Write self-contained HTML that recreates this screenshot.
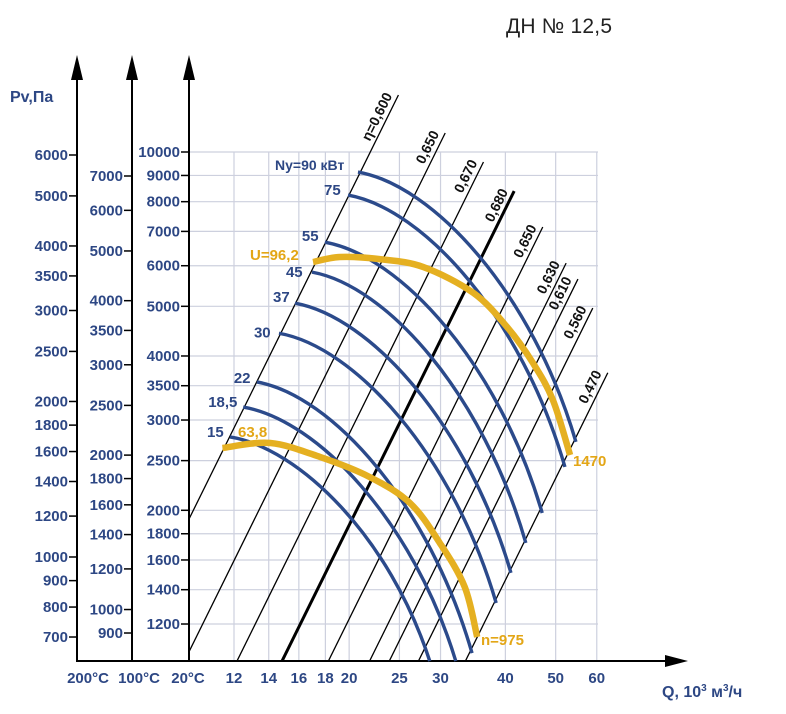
<!DOCTYPE html>
<html><head><meta charset="utf-8"><style>
html,body{margin:0;padding:0;background:#fff;}
svg{display:block;font-family:"Liberation Sans",sans-serif;}
.bl{fill:#2d4784;font-weight:bold;}
.tk{fill:#2d4784;font-weight:bold;font-size:15px;}
.or{fill:#e3a616;font-weight:bold;font-size:15px;}
</style></head><body>
<svg id="chart" width="786" height="714" viewBox="0 0 786 714">
<g id="grid"></g>
<g id="axes">
 <line x1="77" y1="70" x2="77" y2="662" stroke="#000" stroke-width="2"/>
 <line x1="132" y1="70" x2="132" y2="662" stroke="#000" stroke-width="2"/>
 <line x1="189" y1="70" x2="189" y2="662" stroke="#000" stroke-width="2"/>
 <polygon points="71,80 77,55 83,80" fill="#000"/>
 <polygon points="126,80 132,55 138,80" fill="#000"/>
 <polygon points="183,80 189,55 195,80" fill="#000"/>
 <line x1="76" y1="661" x2="672" y2="661" stroke="#000" stroke-width="2"/>
 <polygon points="665,655 688,661 665,667" fill="#000"/>
</g>
<g id="ticks"></g>
<g id="etas" clip-path="url(#c)"></g>
<g id="etaLabels"></g>
<g id="powers"></g>
<g id="speeds"></g>
<defs><clipPath id="c"><rect x="189" y="0" width="600" height="661"/></clipPath></defs>
<text x="506" y="33" font-size="21" fill="#222" textLength="106">ДН № 12,5</text>
<text x="10" y="102" class="bl" font-size="16">Pv,Па</text>
<text x="662" y="697" class="bl" font-size="16">Q, 10<tspan font-size="10" dy="-6">3</tspan><tspan dy="6"> м</tspan><tspan font-size="10" dy="-6">3</tspan><tspan dy="6">/ч</tspan></text>
<text x="275" y="170" class="bl" font-size="14">Ny=90 кВт</text>
<text x="250" y="260" class="or">U=96,2</text>
<text x="238" y="437" class="or">63,8</text>
<text x="573" y="466" class="or">1470</text>
<text x="481" y="645" class="or">n=975</text>
</svg>
<script>
const NS="http://www.w3.org/2000/svg";
// ---- data ----
const xTicks=[12,14,16,18,20,25,30,40,50,60];
const yTicks3=[10000,9000,8000,7000,6000,5000,4000,3500,3000,2500,2000,1800,1600,1400,1200];
const yTicks1=[6000,5000,4000,3500,3000,2500,2000,1800,1600,1400,1200,1000,900,800,700];
const yTicks2=[7000,6000,5000,4000,3500,3000,2500,2000,1800,1600,1400,1200,1000,900];
const tempLabels=["200°C","100°C","20°C"];
const etaNames=["η=0,600","0,650","0,670","0,680","0,650","0,630","0,610","0,560","0,470"];
const etaQBase=[7.2,9.63,12.16,14.85,18.24,21.9,23.9,27.2,33.5];
const etaTopP=[12917,10890,9560,8390,7140,6070,5650,4960,3710];
const powerNames=["90","75","55","45","37","30","22","18,5","15"];
const powerStartQ=[20.8,19.9,17.96,16.96,15.73,14.65,13.28,12.5,11.79];
const powerStartP=[9140,8240,6670,5830,5070,4430,3560,3180,2780];
const powerEndQ=[54.7,52.1,47.1,43.8,41.0,38.4,34.5,32.1,28.6];
const powerEndP=[2720,2430,1976,1727,1510,1319,1053,1016,1016];
const speedHighQ=[17.04,19.2,22.9,27.8,34.7,40.3,45.2,49.4,53.3];
const speedHighP=[6100,6240,6180,5965,5310,4556,3877,3280,2563];
const speedLowQ=[11.4,14.1,17.6,21.9,26.2,29.9,33.4,35.3];
const speedLowP=[2646,2706,2540,2323,2066,1727,1417,1132];
// ---- scales ----
const X=q=>234+519*Math.log10(q/12);
const Y=p=>152+512.6*Math.log10(10000/p);
const Y1=p=>155+516.6*Math.log10(6000/p);
const Y2=p=>176+513*Math.log10(7000/p);
const ETA_N=2.05, P_BASE=1016;
function mk(tag,attrs,parent){const e=document.createElementNS(NS,tag);for(const k in attrs)e.setAttribute(k,attrs[k]);parent.appendChild(e);return e;}
const grid=document.getElementById('grid'),ticks=document.getElementById('ticks');
xTicks.forEach(q=>{
  const l=mk('line',{x1:X(q),x2:X(q),y1:152,y2:661,stroke:'#cdd0de','stroke-width':1.2},grid);
  
  
  const t=mk('text',{x:X(q),y:683,'text-anchor':'middle','class':'tk','font-size':15},ticks);
  t.textContent=q;
  
  
});
yTicks3.forEach(p=>{
  const y=Y(p);
  const l=mk('line',{x1:189,x2:598,y1:y,y2:y,stroke:'#cdd0de','stroke-width':1.2},grid);
  
  
  mk('line',{x1:181,x2:189,y1:y,y2:y,stroke:'#000','stroke-width':1.5},ticks);
  const t=mk('text',{x:180,y:y+5,'text-anchor':'end','class':'tk'},ticks);
  t.textContent=p;
  
  
});
yTicks1.forEach(p=>{
  const y=Y1(p);
  mk('line',{x1:69,x2:77,y1:y,y2:y,stroke:'#000','stroke-width':1.5},ticks);
  const t=mk('text',{x:68,y:y+5,'text-anchor':'end','class':'tk'},ticks);
  t.textContent=p;
  
  
});
yTicks2.forEach(p=>{
  const y=Y2(p);
  mk('line',{x1:124,x2:132,y1:y,y2:y,stroke:'#000','stroke-width':1.5},ticks);
  const t=mk('text',{x:123,y:y+5,'text-anchor':'end','class':'tk'},ticks);
  t.textContent=p;
  
  
});
[88,139,188].forEach((x,i)=>{
  const t=mk('text',{x:x,y:683,'text-anchor':'middle','class':'tk','font-size':14},ticks);
  t.textContent=tempLabels[i];
  
  
});
// efficiency lines
const etas=document.getElementById('etas'),etaL=document.getElementById('etaLabels');
etaNames.forEach((n,i)=>{
  const q0=etaQBase[i], q1=q0*Math.pow(etaTopP[i]/P_BASE,1/ETA_N);
  const x0=X(q0),y0=Y(P_BASE),x1=X(q1),y1=Y(etaTopP[i]);
  const l=mk('line',{x1:x0,y1:y0,x2:x1,y2:y1,stroke:'#000','stroke-width':i===3?3:1.3},etas);
  
  
  const ang=Math.atan2(y1-y0,x1-x0)*180/Math.PI;
  const t=mk('text',{transform:`translate(${x1},${y1}) rotate(${ang})`,x:-3,y:-5,'text-anchor':'end','font-size':14,'font-weight':'bold',fill:'#111'},etaL);
  t.textContent=n;
  
  
});
// power curves
const pw=document.getElementById('powers');
const lblOff=[[0,0],[-24,0],[-23,-1],[-26,5],[-22,-1],[-25,4],[-23,1],[-35,0],[-23,0]];
powerNames.forEach((n,i)=>{
  const sx=X(powerStartQ[i]),sy=Y(powerStartP[i]),ex=X(powerEndQ[i]),ey=Y(powerEndP[i]);
  const dx=ex-sx,dy=ey-sy;
  const d=`M${sx},${sy} C${sx+0.35*dx},${sy+0.05*dy} ${sx+0.8*dx},${sy+0.45*dy} ${ex},${ey}`;
  const p=mk('path',{d:d,fill:'none',stroke:'#2b4a8b','stroke-width':3.4},pw);
  
  
  if(i>0){
    const t=mk('text',{x:sx+lblOff[i][0],y:sy+lblOff[i][1],'class':'bl','font-size':15},pw);
    t.textContent=n;
    
    
  }
});
// speed curves
function cr(qs,ps){
  const pts=qs.map((q,i)=>[X(q),Y(ps[i])]);
  let d=`M${pts[0][0]},${pts[0][1]}`;
  for(let i=0;i<pts.length-1;i++){
    const p0=pts[Math.max(0,i-1)],p1=pts[i],p2=pts[i+1],p3=pts[Math.min(pts.length-1,i+2)];
    d+=` C${p1[0]+(p2[0]-p0[0])/6},${p1[1]+(p2[1]-p0[1])/6} ${p2[0]-(p3[0]-p1[0])/6},${p2[1]-(p3[1]-p1[1])/6} ${p2[0]},${p2[1]}`;
  }
  return d;
}
const sp=document.getElementById('speeds');
const s1=mk('path',{d:cr(speedHighQ,speedHighP),fill:'none',stroke:'#e5b021','stroke-width':6.5},sp);


const s2=mk('path',{d:cr(speedLowQ,speedLowP),fill:'none',stroke:'#e5b021','stroke-width':6.5},sp);


</script>
</body></html>
